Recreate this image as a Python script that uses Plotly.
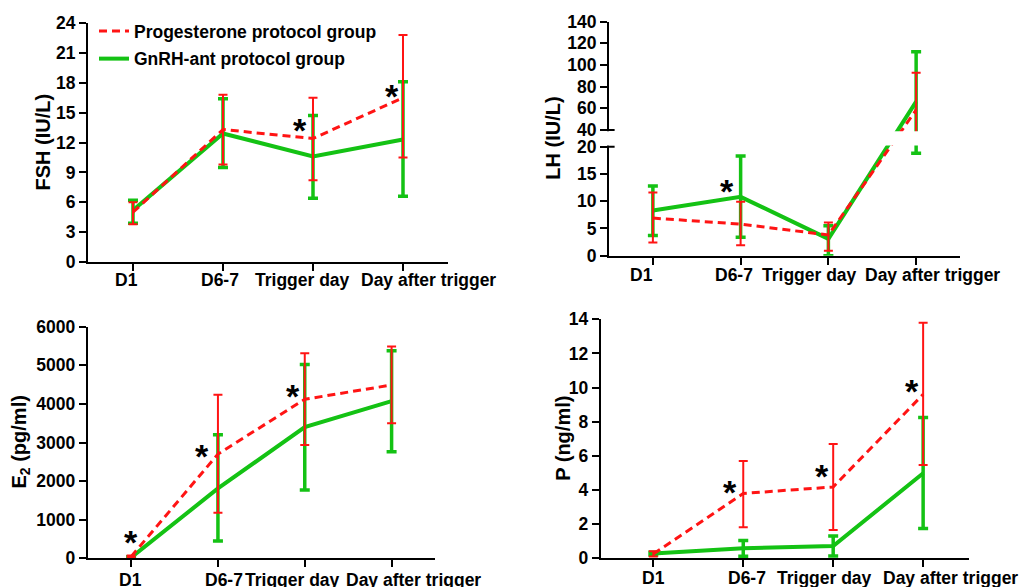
import plotly.graph_objects as go

# ---------------- data ----------------
categories = ["D1", "D6-7", "Trigger day", "Day after trigger"]

fsh_prog_mean = [5.0, 13.3, 12.4, 16.5]
fsh_prog_upper = [6.0, 16.8, 16.5, 22.8]
fsh_prog_lower = [3.8, 9.8, 8.2, 10.5]
fsh_gnrh_mean = [5.2, 12.9, 10.6, 12.3]
fsh_gnrh_upper = [6.2, 16.4, 14.7, 18.1]
fsh_gnrh_lower = [3.9, 9.5, 6.4, 6.6]

lh_prog_mean = [6.9, 5.8, 3.8, 58.5]
lh_prog_upper = [11.6, 9.9, 6.1, 92.9]
lh_prog_lower = [2.4, 1.9, 0.9, 24.0]
lh_gnrh_mean = [8.3, 10.8, 3.1, 66.2]
lh_gnrh_upper = [12.8, 18.3, 5.5, 112.3]
lh_gnrh_lower = [3.7, 3.4, 0.0, 18.8]
lh_tick_values = [0, 5, 10, 15, 20, 40, 60, 80, 100, 120, 140]

e2_prog_mean = [43, 2700, 4120, 4490]
e2_prog_upper = [70, 4240, 5310, 5490]
e2_prog_lower = [20, 1180, 2935, 3500]
e2_gnrh_mean = [20, 1810, 3400, 4070]
e2_gnrh_upper = [40, 3200, 5020, 5380]
e2_gnrh_lower = [0, 450, 1770, 2760]

p_prog_mean = [0.25, 3.80, 4.18, 9.60]
p_prog_upper = [0.42, 5.70, 6.70, 13.80]
p_prog_lower = [0.10, 1.82, 1.66, 5.47]
p_gnrh_mean = [0.28, 0.59, 0.72, 4.98]
p_gnrh_upper = [0.35, 1.05, 1.31, 8.25]
p_gnrh_lower = [0.20, 0.12, 0.14, 1.75]

# significance asterisks (x in category-index units, y in data units)
fsh_sig_x = [1.86, 2.88]
fsh_sig_y = [13.6, 17.0]
lh_sig_x = [0.84]
lh_sig_y = [12.4]
e2_sig_x = [0.0, 0.82, 1.86]
e2_sig_y = [490, 2720, 4270]
p_sig_x = [0.85, 1.88, 2.88]
p_sig_y = [4.04, 4.98, 9.96]

series_names = ["Progesterone protocol group", "GnRH-ant protocol group"]

# ---------------- style / layout ----------------
W, H = 1020, 587
FONT = "Liberation Sans, Arial, Helvetica, sans-serif"
RED = "#FF1414"
GREEN = "#14C214"


def fx(px):
    return px / W


def fy(py):
    return 1 - py / H


# LH broken axis: 0-20 (lower segment) and 40-140 (upper, compressed) on one scale
LH_LOW, LH_HIGH, LH_TOP = 20, 40, 140
LH_BOTTOM_PX, LH_BREAK_LO_PX, LH_BREAK_HI_PX, LH_TOP_PX = 255.7, 146.7, 130.0, 21.7
_unit = (LH_BOTTOM_PX - LH_BREAK_LO_PX) / LH_LOW            # px per unit, lower segment
_gap = (LH_BREAK_LO_PX - LH_BREAK_HI_PX) / _unit             # gap in axis units
_k = ((LH_BREAK_HI_PX - LH_TOP_PX) / (LH_TOP - LH_HIGH)) / _unit


def lh_scale(v):
    if v <= LH_LOW:
        return v
    if v >= LH_HIGH:
        return LH_LOW + _gap + (v - LH_HIGH) * _k
    return LH_LOW + (v - LH_LOW) / (LH_HIGH - LH_LOW) * _gap


fig = go.Figure()


def add_pair(xa, ya, pm, pu, pl, gm, gu, gl, legend=False, f=lambda v: v):
    pm, pu, pl, gm, gu, gl = ([f(v) for v in s] for s in (pm, pu, pl, gm, gu, gl))
    # green first so the red series draws on top
    fig.add_trace(go.Scatter(
        x=categories, y=gm, xaxis=xa, yaxis=ya, mode="lines",
        name=series_names[1], legendgroup="g", legendrank=2, showlegend=legend,
        line=dict(color=GREEN, width=4),
        error_y=dict(type="data", symmetric=False,
                     array=[u - m for u, m in zip(gu, gm)],
                     arrayminus=[m - l for m, l in zip(gm, gl)],
                     color=GREEN, thickness=3.5, width=5),
        hoverinfo="skip"))
    fig.add_trace(go.Scatter(
        x=categories, y=pm, xaxis=xa, yaxis=ya, mode="lines",
        name=series_names[0], legendgroup="p", legendrank=1, showlegend=legend,
        line=dict(color=RED, width=3, dash="8px,5px"),
        error_y=dict(type="data", symmetric=False,
                     array=[u - m for u, m in zip(pu, pm)],
                     arrayminus=[m - l for m, l in zip(pm, pl)],
                     color=RED, thickness=2, width=4.5),
        hoverinfo="skip"))


add_pair("x", "y", fsh_prog_mean, fsh_prog_upper, fsh_prog_lower,
         fsh_gnrh_mean, fsh_gnrh_upper, fsh_gnrh_lower, legend=True)
add_pair("x2", "y2", lh_prog_mean, lh_prog_upper, lh_prog_lower,
         lh_gnrh_mean, lh_gnrh_upper, lh_gnrh_lower, f=lh_scale)
add_pair("x3", "y3", e2_prog_mean, e2_prog_upper, e2_prog_lower,
         e2_gnrh_mean, e2_gnrh_upper, e2_gnrh_lower)
add_pair("x4", "y4", p_prog_mean, p_prog_upper, p_prog_lower,
         p_gnrh_mean, p_gnrh_upper, p_gnrh_lower)

FS = 17.5
tickfont = dict(family=FONT, size=FS, color="black", weight="bold")
common_axis = dict(showgrid=False, zeroline=False, showline=True, linecolor="black",
                   linewidth=2, ticks="outside", ticklen=7, tickwidth=2,
                   tickcolor="black", tickfont=tickfont, automargin=False)

xcommon = dict(common_axis, type="category", showticklabels=False)

fig.update_layout(
    template="none",
    width=W, height=H, autosize=False,
    margin=dict(l=0, r=0, t=0, b=0, pad=0),
    paper_bgcolor="white", plot_bgcolor="white",
    font=dict(family=FONT, color="black"),
    xaxis=dict(xcommon, domain=[fx(88), fx(448)], anchor="y", range=[-0.5, 3.5]),
    yaxis=dict(common_axis, domain=[fy(262), fy(23)], anchor="x", range=[0, 24], dtick=3),
    xaxis2=dict(xcommon, domain=[fx(609), fx(960)], anchor="y2", range=[-0.5, 3.5]),
    yaxis2=dict(common_axis, domain=[fy(LH_BOTTOM_PX), fy(LH_TOP_PX)], anchor="x2",
                range=[0, lh_scale(LH_TOP)], tickmode="array",
                tickvals=[lh_scale(v) for v in lh_tick_values],
                ticktext=[str(v) for v in lh_tick_values]),
    xaxis3=dict(xcommon, domain=[fx(87.7), fx(435)], anchor="y3", range=[-0.5, 3.5]),
    yaxis3=dict(common_axis, domain=[fy(558.3), fy(326.7)], anchor="x3", range=[0, 6000], dtick=1000),
    xaxis4=dict(xcommon, domain=[fx(600.7), fx(969)], anchor="y4", range=[-0.585, 3.51]),
    yaxis4=dict(common_axis, domain=[fy(558.3), fy(319.3)], anchor="x4", range=[0, 14], dtick=2),
    showlegend=True,
    legend=dict(x=fx(94), y=fy(13), xanchor="left", yanchor="top",
                bgcolor="rgba(0,0,0,0)", tracegroupgap=2, itemwidth=30,
                font=dict(family=FONT, size=FS, color="black", weight="bold")),
)

# LH axis break: blank band plus short break marks
eps = 1.2 / _unit
fig.add_shape(type="rect", xref="x2 domain", yref="y2", x0=-0.01, x1=1.0,
              y0=lh_scale(LH_LOW) + eps, y1=lh_scale(LH_HIGH) - eps,
              fillcolor="white", line=dict(width=0), layer="above")
for v in (LH_LOW, LH_HIGH):
    fig.add_shape(type="line", xref="x2 domain", yref="y2", x0=0, x1=0.016,
                  y0=lh_scale(v), y1=lh_scale(v), line=dict(color="black", width=2),
                  layer="above")

# category labels (nudged to avoid overlaps, like the original)
label_font = dict(family=FONT, size=FS, color="black", weight="bold")
panels = [
    ("x", "y domain", [-6.7, -2.7, -10.3, 25.7], -18),
    ("x2", "y2 domain", [-11, -6.7, -19, 16.7], -19),
    ("x3", "y3 domain", [-0.7, 5.7, -12.7, 21.7], -22),
    ("x4", "y4 domain", [0, 3.7, -8.3, 27], -20),
]
for xa, yd, shifts, ysh in panels:
    for i, cat in enumerate(categories):
        fig.add_annotation(x=i, xref=xa, y=0, yref=yd, text=cat, showarrow=False,
                           xshift=shifts[i], yshift=ysh, xanchor="center", yanchor="middle",
                           font=label_font)

# y-axis titles
title_font = dict(family=FONT, size=20, color="black", weight="bold")
for text, px, py in [("FSH (IU/L)", 42, 142.5), ("LH (IU/L)", 553, 138.7),
                     ("E<sub>2</sub> (pg/ml)", 20, 442.5), ("P (ng/ml)", 563, 438.8)]:
    fig.add_annotation(x=fx(px), y=fy(py), xref="paper", yref="paper", text=text,
                       textangle=-90, showarrow=False, xanchor="center", yanchor="middle",
                       font=title_font)

# significance asterisks
star_font = dict(family=FONT, size=34, color="black", weight="bold")
for xa, ya, xs, ys in [("x", "y", fsh_sig_x, fsh_sig_y), ("x2", "y2", lh_sig_x, lh_sig_y),
                       ("x3", "y3", e2_sig_x, e2_sig_y), ("x4", "y4", p_sig_x, p_sig_y)]:
    for xv, yv in zip(xs, ys):
        fig.add_annotation(x=xv, y=yv, xref=xa, yref=ya, text="*", showarrow=False,
                           xanchor="center", yanchor="middle", yshift=-3, font=star_font)

# remove the default page margin so the figure sits at the window's top-left corner
fig.write_html("out.html", config={"displayModeBar": False},
               post_script="document.body.style.margin='0';")
